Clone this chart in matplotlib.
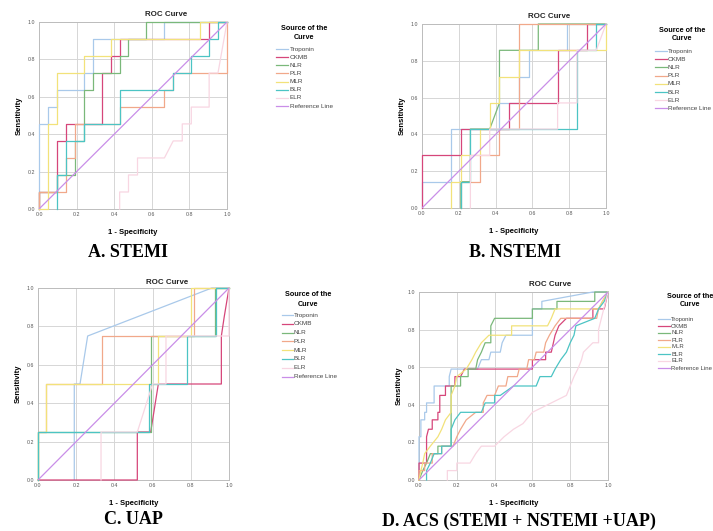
import matplotlib
matplotlib.use("Agg")
import matplotlib.pyplot as plt
from matplotlib.lines import Line2D

# ---------------- data ----------------
series_names = ["Troponin", "CKMB", "NLR", "PLR", "MLR", "BLR", "ELR"]
series_colors = ["#a9c9ea", "#d6467a", "#7ab87a", "#f1a88a", "#f2e27a", "#4cc4c4", "#f8d6e2"]
ref_label = "Reference Line"
ref_color = "#c98ee8"
panel_labels = ["A. STEMI", "B. NSTEMI", "C. UAP", "D. ACS (STEMI + NSTEMI +UAP)"]
ticks = [0.0, 0.2, 0.4, 0.6, 0.8, 1.0]
tick_labels = ["0.0", "0.2", "0.4", "0.6", "0.8", "1.0"]

# Panel A: STEMI  (1-specificity, sensitivity) vertices
stemi_troponin = [(0,0),(0,.455),(.048,.455),(.048,.545),(.095,.545),(.095,.636),(.238,.636),(.238,.727),(.286,.727),(.286,.909),(.667,.909),(.667,1),(1,1)]
stemi_ckmb = [(0,0),(0,.091),(.095,.091),(.095,.364),(.143,.364),(.143,.455),(.333,.455),(.333,.727),(.381,.727),(.381,.818),(.429,.818),(.429,.909),(.905,.909),(.905,1),(1,1)]
stemi_nlr = [(0,0),(0,.091),(.095,.091),(.095,.182),(.19,.182),(.19,.364),(.238,.364),(.238,.636),(.286,.636),(.286,.727),(.429,.727),(.429,.818),(.476,.818),(.476,.909),(.571,.909),(.571,1),(1,1)]
stemi_plr = [(0,0),(0,.091),(.143,.091),(.143,.273),(.19,.273),(.19,.455),(.429,.455),(.429,.545),(.667,.545),(.667,.636),(.714,.636),(.714,.727),(1,.727),(1,1)]
stemi_mlr = [(0,0),(.048,0),(.048,.455),(.095,.455),(.095,.727),(.238,.727),(.238,.818),(.381,.818),(.381,.909),(.857,.909),(.857,1),(1,1)]
stemi_blr = [(.095,0),(.095,.182),(.143,.182),(.143,.364),(.238,.364),(.238,.455),(.429,.455),(.429,.636),(.714,.636),(.714,.727),(.81,.727),(.81,.818),(.905,.818),(.905,.909),(.952,.909),(.952,1),(1,1)]
stemi_elr = [(.429,0),(.429,.091),(.476,.091),(.476,.182),(.524,.182),(.524,.273),(.667,.273),(.714,.364),(.762,.364),(.762,.455),(.81,.455),(.81,.545),(.905,.545),(.905,.727),(.952,.727),(1,1)]

# Panel B: NSTEMI
nstemi_troponin = [(0,0),(0,.143),(.158,.143),(.158,.429),(.421,.429),(.421,.571),(.526,.571),(.526,.714),(.579,.714),(.579,.857),(.789,.857),(.789,1),(1,1)]
nstemi_ckmb = [(0,0),(0,.286),(.211,.286),(.211,.429),(.474,.429),(.474,.571),(.737,.571),(.737,.857),(.895,.857),(.895,1),(1,1)]
nstemi_nlr = [(.211,0),(.211,.143),(.263,.143),(.263,.429),(.368,.429),(.421,.571),(.421,.857),(.632,.857),(.632,1),(1,1)]
nstemi_plr = [(.211,0),(.211,.143),(.316,.143),(.316,.286),(.421,.286),(.421,.429),(.526,.429),(.526,1),(1,1)]
nstemi_mlr = [(.158,0),(.158,.143),(.211,.143),(.211,.286),(.316,.286),(.316,.429),(.368,.429),(.368,.571),(.421,.571),(.421,.714),(.526,.714),(.526,.857),(1,.857),(1,1)]
nstemi_blr = [(.211,0),(.211,.143),(.263,.143),(.263,.429),(.842,.429),(.842,.571),(.842,.857),(.947,.857),(.947,1),(1,1)]
nstemi_elr = [(.263,0),(.263,.286),(.368,.286),(.368,.429),(.737,.429),(.737,.571),(.842,.571),(.842,.857),(.947,.857),(1,1)]

# Panel C: UAP
uap_troponin = [(.19,0),(.19,.5),(.22,.5),(.26,.75),(.91,1),(1,1)]
uap_ckmb = [(0,0),(.52,0),(.52,.25),(.59,.25),(.63,.5),(.96,.5),(.96,.75),(.975,.85),(1,1)]
uap_nlr = [(0,0),(0,.25),(.59,.25),(.59,.75),(.925,.75),(.925,1),(1,1)]
uap_plr = [(0,0),(0,.25),(.04,.25),(.04,.5),(.335,.5),(.335,.75),(.815,.75),(.815,1),(1,1)]
uap_mlr = [(0,0),(0,.25),(.04,.25),(.04,.5),(.63,.5),(.63,.75),(.80,.75),(.80,1),(1,1)]
uap_blr = [(0,0),(0,.25),(.58,.25),(.58,.5),(.78,.5),(.78,.75),(.93,.75),(.93,1),(1,1)]
uap_elr = [(.33,0),(.33,.25),(.52,.25),(.60,.5),(.67,.5),(.67,.75),(1,.75),(1,1)]

# Panel D: ACS (STEMI + NSTEMI + UAP)
acs_troponin = [(0,0),(0,.23),(.01,.23),(.01,.32),(.03,.32),(.03,.36),(.04,.36),(.04,.41),(.08,.41),(.08,.5),(.16,.5),(.16,.55),(.17,.59),(.31,.59),(.33,.64),(.37,.64),(.38,.68),(.43,.68),(.44,.73),(.46,.77),(.6,.77),(.6,.91),(.65,.91),(.65,.95),(.92,1),(1,1)]
acs_ckmb = [(0,0),(0,.09),(.04,.09),(.04,.23),(.05,.27),(.07,.27),(.07,.32),(.1,.32),(.1,.36),(.11,.36),(.11,.45),(.14,.45),(.14,.5),(.19,.5),(.19,.55),(.22,.55),(.24,.59),(.6,.59),(.6,.64),(.67,.64),(.67,.68),(.7,.68),(.72,.77),(.74,.82),(.78,.86),(.92,.86),(.92,.91),(.98,.91),(1,1)]
acs_nlr = [(0,0),(.02,.05),(.04,.09),(.06,.14),(.1,.14),(.1,.18),(.17,.18),(.17,.5),(.22,.5),(.22,.55),(.26,.55),(.26,.59),(.3,.59),(.31,.64),(.33,.68),(.35,.73),(.38,.73),(.38,.82),(.4,.86),(.6,.86),(.6,.91),(.73,.91),(.73,.95),(.93,.95),(.93,1),(1,1)]
acs_plr = [(0,0),(0,.05),(.03,.05),(.03,.09),(.07,.09),(.07,.14),(.12,.14),(.12,.18),(.18,.18),(.2,.23),(.22,.27),(.25,.32),(.3,.36),(.34,.36),(.34,.41),(.36,.45),(.4,.45),(.42,.5),(.46,.5),(.47,.55),(.52,.55),(.53,.59),(.57,.59),(.58,.64),(.61,.64),(.62,.68),(.66,.68),(.67,.73),(.69,.77),(.72,.82),(.75,.86),(.94,.86),(.95,.91),(.97,.95),(1,1)]
acs_mlr = [(0,0),(.01,.05),(.02,.09),(.03,.14),(.06,.18),(.1,.23),(.12,.27),(.14,.32),(.17,.36),(.17,.45),(.19,.5),(.2,.55),(.25,.59),(.28,.64),(.3,.68),(.33,.73),(.37,.77),(.49,.77),(.49,.82),(.68,.82),(.7,.86),(.72,.91),(.95,.91),(1,1)]
acs_blr = [(.04,0),(.04,.05),(.06,.09),(.08,.14),(.12,.14),(.12,.18),(.17,.18),(.17,.27),(.19,.32),(.22,.36),(.33,.36),(.35,.41),(.4,.41),(.4,.45),(.43,.45),(.5,.5),(.62,.5),(.64,.55),(.7,.55),(.72,.59),(.75,.64),(.78,.68),(.8,.73),(.82,.77),(.83,.82),(.93,.86),(.95,.91),(.98,.95),(1,1)]
acs_elr = [(.15,0),(.15,.05),(.2,.05),(.2,.09),(.27,.09),(.3,.14),(.33,.18),(.4,.18),(.45,.23),(.5,.27),(.55,.3),(.6,.36),(.7,.41),(.78,.45),(.8,.5),(.82,.55),(.84,.59),(.86,.64),(.87,.68),(.92,.73),(.95,.73),(.95,.8),(1,1)]

panel_data = [
    [stemi_troponin, stemi_ckmb, stemi_nlr, stemi_plr, stemi_mlr, stemi_blr, stemi_elr],
    [nstemi_troponin, nstemi_ckmb, nstemi_nlr, nstemi_plr, nstemi_mlr, nstemi_blr, nstemi_elr],
    [uap_troponin, uap_ckmb, uap_nlr, uap_plr, uap_mlr, uap_blr, uap_elr],
    [acs_troponin, acs_ckmb, acs_nlr, acs_plr, acs_mlr, acs_blr, acs_elr],
]

# ---------------- layout (pixels) ----------------
W, H = 713, 531
fig = plt.figure(figsize=(W / 100, H / 100), dpi=100)
plt.rcParams['font.family'] = ['Liberation Sans', 'DejaVu Sans']

boxes = [(39, 22, 227, 209), (422, 24, 606, 208), (38, 288, 229, 480), (419, 292, 608, 480)]
title_pos = [(166, 14), (549, 17), (167, 282), (550, 284)]
label_pos = [(128, 252), (515, 252), (133, 520), (519, 521)]
legend_cfg = [
    # title center x, title y1, title y2, first item y, step, line x0, line x1, text x, fontsize
    (304, 29, 37, 49, 8.15, 276, 288, 290, 4.6),
    (682, 31, 39, 51, 8.2, 655, 667, 668, 4.6),
    (308, 295, 304, 315, 8.8, 282, 293, 294, 4.6),
    (690, 297, 305, 319, 7.0, 658, 670, 671, 4.3),
]

def fx(x):
    return x / W

def fy(y):
    return 1 - y / H

for i, (l, t, r, b) in enumerate(boxes):
    ax = fig.add_axes([l / W, 1 - b / H, (r - l) / W, (b - t) / H])
    ax.set_xlim(0, 1)
    ax.set_ylim(0, 1)
    ax.set_xticks(ticks)
    ax.set_yticks(ticks)
    ax.set_xticklabels(tick_labels)
    ax.set_yticklabels(tick_labels)
    ax.tick_params(length=0, labelsize=3.8, labelcolor="#555555", pad=2.5)
    ax.grid(True, color="#d6d6d6", linewidth=0.7)
    ax.set_axisbelow(True)
    for s in ax.spines.values():
        s.set_color("#bdbdbd")
        s.set_linewidth(0.7)
    for pts, col in zip(panel_data[i], series_colors):
        xs = [p[0] for p in pts]
        ys = [p[1] for p in pts]
        ax.plot(xs, ys, color=col, linewidth=0.9, clip_on=False, zorder=3)
    ax.plot([0, 1], [0, 1], color=ref_color, linewidth=0.9, zorder=3)
    ax.set_xlabel("1 - Specificity", fontsize=5.5, fontweight="bold", labelpad=8)
    ax.set_ylabel("Sensitivity", fontsize=5.5, fontweight="bold", labelpad=4)

    tx, ty = title_pos[i]
    fig.text(fx(tx), fy(ty), "ROC Curve", fontsize=5.7, fontweight="bold",
             ha="center", va="center", color="#222222")
    lx, lyy = label_pos[i]
    fig.text(fx(lx), fy(lyy), panel_labels[i], fontsize=13, fontweight="bold",
             family=["Liberation Serif", "DejaVu Serif"], ha="center", va="center")

    cx, y1, y2, iy, step, x0, x1, txx, fs = legend_cfg[i]
    fig.text(fx(cx), fy(y1), "Source of the", fontsize=5.2, fontweight="bold", ha="center", va="center")
    fig.text(fx(cx), fy(y2), "Curve", fontsize=5.2, fontweight="bold", ha="center", va="center")
    names = series_names + [ref_label]
    cols = series_colors + [ref_color]
    for k, (nm, col) in enumerate(zip(names, cols)):
        yy = iy + k * step
        fig.add_artist(Line2D([fx(x0), fx(x1)], [fy(yy), fy(yy)], color=col, linewidth=0.9,
                              transform=fig.transFigure))
        fig.text(fx(txx), fy(yy), nm, fontsize=fs, color="#444444", ha="left", va="center")

fig.savefig("out.png", dpi=100)
